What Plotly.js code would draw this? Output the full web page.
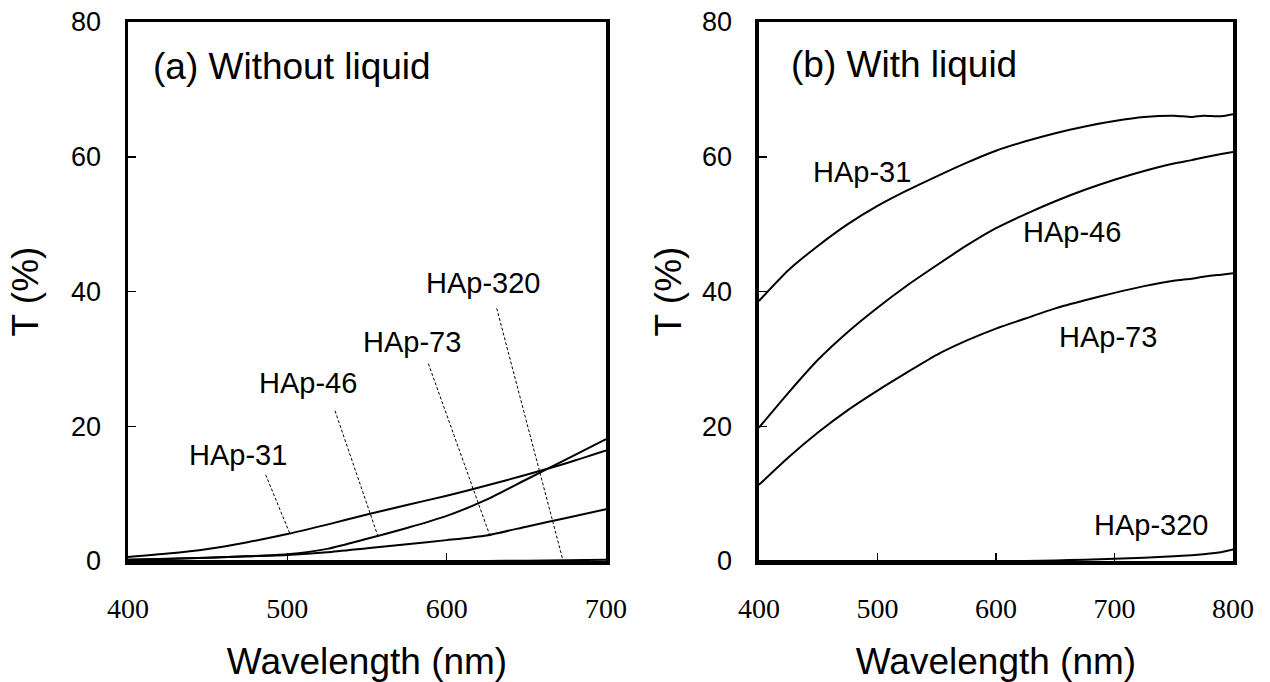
<!DOCTYPE html>
<html>
<head>
<meta charset="utf-8">
<script src="https://cdn.plot.ly/plotly-3.0.1.min.js"></script>
<style>html,body{margin:0;padding:0;background:#fff;}#chart{width:1270px;height:682px;}</style>
</head>
<body>
<div id="chart"></div>
<script>
// ---------- Data: panel (a) Without liquid ----------
const wlA = [400, 425, 450, 475, 500, 525, 550, 575, 600, 625, 650, 675, 700];
const tA_HAp31  = [0.6, 1.1, 1.8, 2.8, 4.0, 5.4, 6.9, 8.3, 9.7, 11.2, 12.8, 14.5, 16.4];
const tA_HAp46  = [0.2, 0.3, 0.5, 0.7, 1.0, 1.8, 3.3, 4.9, 6.7, 9.1, 12.1, 15.1, 18.1];
const tA_HAp73  = [0.2, 0.35, 0.5, 0.7, 0.9, 1.3, 1.9, 2.5, 3.1, 3.8, 5.1, 6.4, 7.7];
const tA_HAp320 = [0, 0, 0, 0, 0, 0, 0, 0, 0, 0.02, 0.05, 0.1, 0.2];

// ---------- Data: panel (b) With liquid ----------
const wlB = [400, 425, 450, 475, 500, 525, 550, 575, 600, 625, 650, 675, 700, 725, 750, 765, 775, 790, 800];
const tB_HAp31  = [38.6, 43.2, 46.8, 50.0, 52.7, 55.0, 57.1, 59.1, 60.9, 62.3, 63.5, 64.5, 65.3, 65.9, 66.1, 65.9, 66.1, 66.0, 66.3];
const tB_HAp46  = [19.8, 25.0, 29.9, 34.0, 37.6, 40.9, 43.9, 46.8, 49.4, 51.5, 53.4, 55.1, 56.6, 57.9, 59.0, 59.5, 59.9, 60.4, 60.7];
const tB_HAp73  = [11.3, 15.4, 19.1, 22.4, 25.3, 28.0, 30.6, 32.7, 34.5, 36.0, 37.5, 38.7, 39.8, 40.8, 41.6, 41.9, 42.2, 42.5, 42.7];
const tB_HAp320 = [0, 0, 0, 0, 0, 0, 0, 0, 0, 0.02, 0.08, 0.2, 0.35, 0.5, 0.7, 0.85, 1.0, 1.3, 1.7];

// ---------- Labels ----------
const seriesNames = ["HAp-31", "HAp-46", "HAp-73", "HAp-320"];
const panelLabels = ["(a) Without liquid", "(b) With liquid"];
const xTitle = "Wavelength (nm)";
const yTitle = "T (%)";
const xTicksA = [400, 500, 600, 700];
const xTicksB = [400, 500, 600, 700, 800];
const yTicks = [0, 20, 40, 60, 80];

// label anchor points (data coords) for panel (a)
const labelA_x = [469, 513, 578, 623];
const labelA_y = [15.7, 26.4, 32.5, 41.2];
// leader lines for panel (a): from (x0,y0) to (x1,y1)
const leadA_x0 = [486.4, 529.9, 588.5, 631.4];
const leadA_y0 = [12.8, 22.3, 29.3, 37.5];
const leadA_x1 = [501.7, 557.1, 627.2, 672.9];
const leadA_y1 = [4.0, 3.5, 3.7, 0.15];
// label anchor points for panel (b)
const labelB_x = [487, 664, 694.5, 731];
const labelB_y = [57.8, 48.9, 33.2, 5.4];

const sans = "'Liberation Sans', Arial, sans-serif";
const serif = "'Liberation Serif', 'DejaVu Serif', serif";

const curveLine = {color: "#000", width: 2, shape: "spline", smoothing: 0.6};
function trace(x, y, xa, ya, name) {
  return {x: x, y: y, xaxis: xa, yaxis: ya, type: "scatter", mode: "lines",
          line: curveLine, name: name, hoverinfo: "skip", showlegend: false};
}
const data = [
  trace(wlA, tA_HAp31, "x", "y", seriesNames[0]),
  trace(wlA, tA_HAp46, "x", "y", seriesNames[1]),
  trace(wlA, tA_HAp73, "x", "y", seriesNames[2]),
  trace(wlA, tA_HAp320, "x", "y", seriesNames[3]),
  trace(wlB, tB_HAp31, "x2", "y2", seriesNames[0]),
  trace(wlB, tB_HAp46, "x2", "y2", seriesNames[1]),
  trace(wlB, tB_HAp73, "x2", "y2", seriesNames[2]),
  trace(wlB, tB_HAp320, "x2", "y2", seriesNames[3])
];

function xAxis(domain, range, ticks, anchor) {
  return {
    domain: domain, range: range, anchor: anchor,
    tickmode: "array", tickvals: ticks,
    ticks: "inside", ticklen: 8, tickwidth: 1.5, tickcolor: "#000",
    showline: true, linewidth: 3.5, linecolor: "#000", mirror: true,
    showgrid: false, zeroline: false, fixedrange: true,
    ticklabelstandoff: 20,
    tickfont: {family: serif, size: 28, color: "#000"},
    title: {text: xTitle, font: {family: sans, size: 37, color: "#000"}, standoff: 28}
  };
}
function yAxis(domain, anchor, standoff) {
  return {
    domain: domain, range: [0, 80], anchor: anchor,
    tickmode: "array", tickvals: yTicks,
    ticks: "inside", ticklen: 8, tickwidth: 1.5, tickcolor: "#000",
    showline: true, linewidth: 3.5, linecolor: "#000", mirror: true,
    showgrid: false, zeroline: false, fixedrange: true,
    ticklabelstandoff: 18,
    tickfont: {family: sans, size: 27, color: "#000"},
    title: {text: yTitle, font: {family: sans, size: 37, color: "#000"}, standoff: standoff}
  };
}

const annotations = [];
seriesNames.forEach((n, i) => {
  annotations.push({xref: "x", yref: "y", x: labelA_x[i], y: labelA_y[i], text: n,
    showarrow: false, font: {family: sans, size: 29, color: "#000"}});
  annotations.push({xref: "x2", yref: "y2", x: labelB_x[i], y: labelB_y[i], text: n,
    showarrow: false, font: {family: sans, size: 29, color: "#000"}});
});
annotations.push({xref: "x domain", yref: "y domain", x: 0.048, y: 0.917, xanchor: "left", yanchor: "middle",
  text: panelLabels[0], showarrow: false, font: {family: sans, size: 37, color: "#000"}});
annotations.push({xref: "x2 domain", yref: "y2 domain", x: 0.064, y: 0.921, xanchor: "left", yanchor: "middle",
  text: panelLabels[1], showarrow: false, font: {family: sans, size: 37, color: "#000"}});

const shapes = leadA_x0.map((x0, i) => ({
  type: "line", xref: "x", yref: "y", x0: x0, y0: leadA_y0[i], x1: leadA_x1[i], y1: leadA_y1[i],
  line: {color: "#000", width: 1, dash: "3px,2px"}
}));

const layout = {
  width: 1270, height: 682,
  margin: {l: 0, r: 0, t: 0, b: 0},
  paper_bgcolor: "#fff", plot_bgcolor: "#fff",
  font: {family: sans, color: "#000"},
  showlegend: false,
  xaxis: xAxis([0.1008, 0.4772], [400, 700], xTicksA, "y"),
  yaxis: yAxis([0.1774, 0.9677], "x", 22),
  xaxis2: xAxis([0.5976, 0.9709], [400, 800], xTicksB, "y2"),
  yaxis2: yAxis([0.1774, 0.9677], "x2", 10),
  annotations: annotations,
  shapes: shapes
};

Plotly.newPlot("chart", data, layout, {staticPlot: true, displayModeBar: false});
</script>
</body>
</html>
